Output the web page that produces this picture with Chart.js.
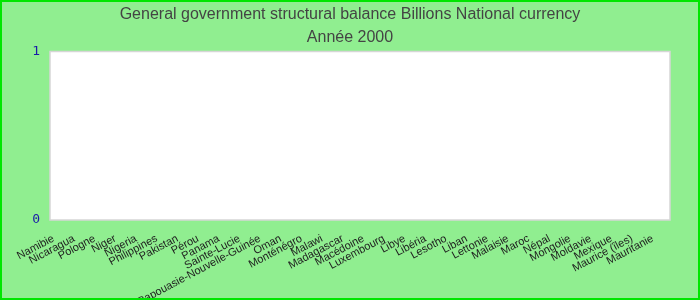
<!DOCTYPE html>
<html>
<head>
<meta charset="utf-8">
<script src="https://cdn.jsdelivr.net/npm/chart.js@4/dist/chart.umd.min.js"></script>
<style>
    html, body { margin: 0; padding: 0; background: #90ee90; }
    #wrap { width: 700px; height: 300px; }
</style>
</head>
<body>
<div id="wrap"><canvas id="chart" width="700" height="300"></canvas></div>
<script>
// Chart data
const titleLines = ['General government structural balance Billions National currency', 'Année 2000'];
const countries = ['Namibie', 'Nicaragua', 'Pologne', 'Niger', 'Nigeria', 'Philippines', 'Pakistan', 'Pérou',
    'Panama', 'Sainte-Lucie', 'Papouasie-Nouvelle-Guinée', 'Oman', 'Monténégro', 'Malawi', 'Madagascar',
    'Macédoine', 'Luxembourg', 'Libye', 'Libéria', 'Lesotho', 'Liban', 'Lettonie', 'Malaisie', 'Maroc',
    'Népal', 'Mongolie', 'Moldavie', 'Mexique', 'Maurice (îles)', 'Mauritanie'];
// No values are shown for the year 2000
const balance = [null, null, null, null, null, null, null, null, null, null, null, null, null, null, null,
    null, null, null, null, null, null, null, null, null, null, null, null, null, null, null];
const yTicks = [0, 1];

// Plugin: white plot area, grey frame, green outer border and rotated country labels
const backdrop = {
    id: 'backdrop',
    beforeDraw(chart) {
        const { ctx, chartArea: a } = chart;
        ctx.save();
        ctx.fillStyle = '#ffffff';
        ctx.fillRect(a.left, a.top, a.right - a.left, a.bottom - a.top);
        ctx.restore();
    },
    afterDraw(chart) {
        const { ctx, chartArea: a, width, height } = chart;
        const xScale = chart.scales.x;
        ctx.save();
        ctx.strokeStyle = '#d6d6d6';
        ctx.lineWidth = 1.5;
        ctx.strokeRect(a.left, a.top, a.right - a.left, a.bottom - a.top);

        // x labels: right end tucked just left of each category centre
        ctx.fillStyle = '#1e1e1e';
        ctx.font = '11px "Liberation Sans", Arial, sans-serif';
        ctx.textAlign = 'right';
        ctx.textBaseline = 'top';
        countries.forEach((name, i) => {
            const x = xScale.getPixelForTick(i) - 9.5;
            ctx.save();
            ctx.translate(x, a.bottom + 13);
            ctx.rotate(-28 * Math.PI / 180);
            ctx.fillText(name, 0, 0);
            ctx.restore();
        });

        ctx.strokeStyle = '#00e600';
        ctx.lineWidth = 2;
        ctx.strokeRect(1, 1, width - 2, height - 2);
        ctx.restore();
    }
};

const ctx = document.getElementById('chart').getContext('2d');
const chart = new Chart(ctx, {
    type: 'bar',
    data: {
        labels: countries,
        datasets: [{
            label: titleLines[1],
            data: balance,
            backgroundColor: '#4a7ebb'
        }]
    },
    options: {
        responsive: false,
        animation: false,
        layout: { padding: 0 },
        plugins: {
            legend: { display: false },
            tooltip: { enabled: false },
            title: {
                display: true,
                text: titleLines,
                color: '#444444',
                font: { family: '"Liberation Sans", Arial, sans-serif', size: 16, weight: 'normal', lineHeight: 1.4375 },
                padding: { top: 3.5, bottom: 2 }
            }
        },
        scales: {
            x: {
                grid: { display: false, drawTicks: false },
                border: { display: false },
                ticks: { display: false, autoSkip: false },
                afterFit(scale) { scale.height = 80; }
            },
            y: {
                min: 0,
                max: 1,
                grid: { display: false, drawTicks: false },
                border: { display: false },
                afterBuildTicks(scale) { scale.ticks = yTicks.map(v => ({ value: v })); },
                ticks: {
                    padding: 10,
                    color: '#1a1aa8',
                    font: { family: '"DejaVu Sans Mono", monospace', size: 13 }
                },
                afterFit(scale) { scale.width = 50; }
            },
            // empty right-hand axis that only keeps the margin on the right
            yRight: {
                position: 'right',
                min: 0,
                max: 1,
                grid: { display: false, drawTicks: false },
                border: { display: false },
                ticks: { display: false },
                afterFit(scale) { scale.width = 30; }
            }
        }
    },
    plugins: [backdrop]
});
</script>
</body>
</html>
